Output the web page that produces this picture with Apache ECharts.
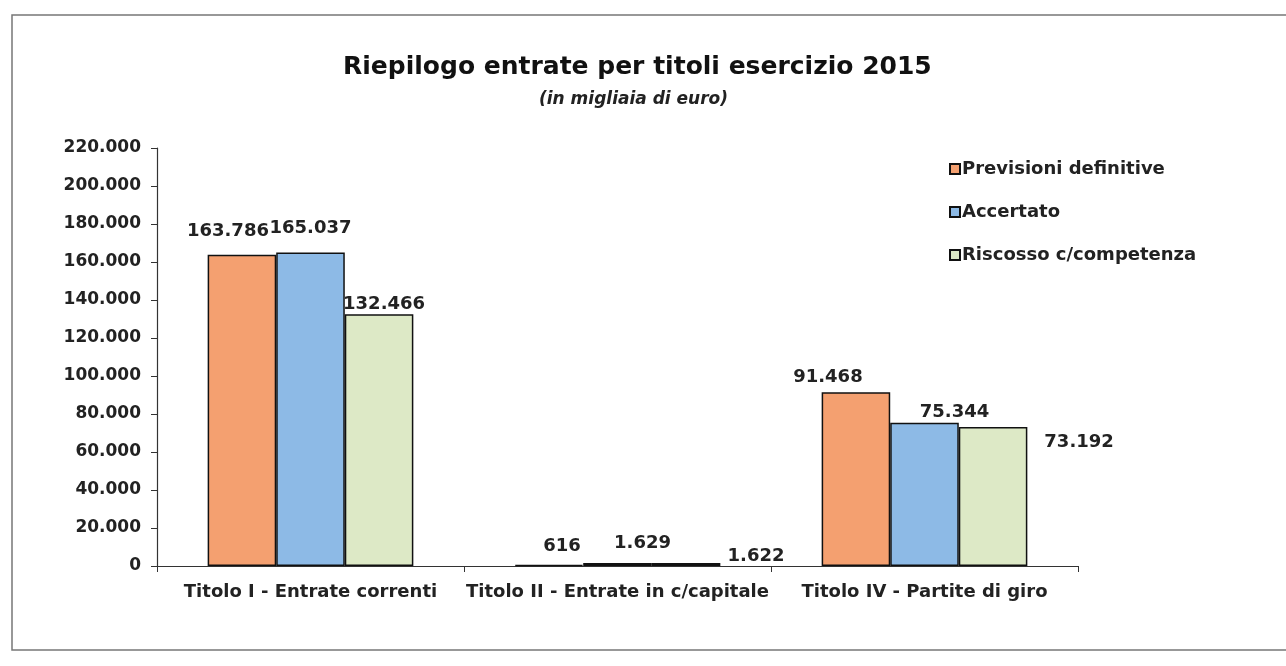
<!DOCTYPE html>
<html><head><meta charset="utf-8">
<script src="https://cdn.jsdelivr.net/npm/echarts@6/dist/echarts.min.js"></script>
<style>html,body{margin:0;padding:0;background:#fff}#c{width:1286px;height:666px}</style>
</head><body><div id="c"></div>
<script>
const categories = ['Titolo I - Entrate correnti', 'Titolo II - Entrate in c/capitale', 'Titolo IV - Partite di giro'];
const previsioni = [163786, 616, 91468];
const accertato = [165037, 1629, 75344];
const riscosso = [132466, 1622, 73192];
const seriesNames = ['Previsioni definitive', 'Accertato', 'Riscosso c/competenza'];
const colors = ['#F4A070', '#8DBAE6', '#DDE9C6'];
// label nudges [dx, dy] per series and category, mirroring the reference's label placement
const labelNudges = [
  [[-14, -4], [13, 1], [-28, 4]],
  [[0, -5], [25, -1], [30, 8]],
  [[5, 9], [70, 12], [86, 34]]
];

function fmt(v){ return String(Math.round(v)).replace(/\B(?=(\d{3})+(?!\d))/g, '.'); }
const font = '"DejaVu Sans", Verdana, sans-serif';
const chart = echarts.init(document.getElementById('c'));
const mk = (i, data) => ({
  name: seriesNames[i], type: 'bar', barGap: '0%', barCategoryGap: '33%',
  data: data.map((v, j) => ({ value: v, label: { offset: labelNudges[i][j] } })),
  itemStyle: { color: colors[i], borderColor: '#111', borderWidth: 1.5 },
  label: { show: true, position: 'top', distance: 10, formatter: p => fmt(p.value),
    fontFamily: font, fontWeight: 'bold', fontSize: 18, color: '#222' }
});
chart.setOption({
  animation: false,
  backgroundColor: '#fff',
  title: [{
    text: 'Riepilogo entrate per titoli esercizio 2015',
    left: 338, top: 50,
    textStyle: { fontFamily: font, fontWeight: 'bold', fontSize: 25, color: '#111' }
  }, {
    text: '(in migliaia di euro)',
    left: 534, top: 86,
    textStyle: { fontFamily: font, fontWeight: 'bold', fontStyle: 'italic', fontSize: 17, color: '#222' }
  }],
  legend: {
    orient: 'vertical', left: 944, top: 155, itemGap: 25, itemWidth: 10, itemHeight: 10,
    icon: 'rect',
    textStyle: { fontFamily: font, fontWeight: 'bold', fontSize: 18, color: '#222', padding: [0,0,0,-3] },
    data: seriesNames
  },
  graphic: [{ type: 'rect', shape: { x: 12, y: 15, width: 1300, height: 635 }, style: { fill: 'none', stroke: '#777', lineWidth: 1.5 }, silent: true }],
  grid: { left: 157, right: 208, top: 148, bottom: 100 },
  xAxis: {
    type: 'category', data: categories,
    axisLine: { lineStyle: { color: '#333', width: 1.2 } },
    axisTick: { show: true, alignWithLabel: false, length: 6, lineStyle: { color: '#333' } },
    axisLabel: { interval: 0, fontFamily: font, fontWeight: 'bold', fontSize: 18, color: '#222', margin: 17 }
  },
  yAxis: {
    type: 'value', min: 0, max: 220000, interval: 20000,
    splitLine: { show: false },
    axisLine: { show: true, lineStyle: { color: '#333', width: 1.2 } },
    axisTick: { show: true, length: 6, lineStyle: { color: '#333' } },
    axisLabel: { formatter: v => fmt(v), fontFamily: font, fontWeight: 'bold', fontSize: 17, color: '#222', margin: 16 }
  },
  series: [mk(0, previsioni), mk(1, accertato), mk(2, riscosso)]
});
</script></body></html>
